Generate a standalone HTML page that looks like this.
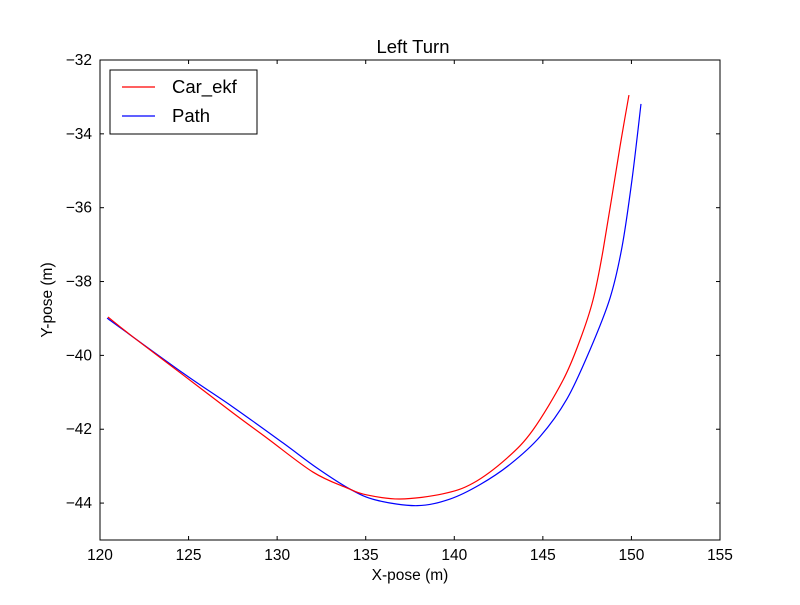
<!DOCTYPE html>
<html><head><meta charset="utf-8"><style>
body{margin:0;background:#fff;}
svg text{font-family:"Liberation Sans","DejaVu Sans",sans-serif;}
</style></head><body>
<svg id="chart" width="800" height="600" xmlns="http://www.w3.org/2000/svg"></svg>
<script>
const xTicks=[120,125,130,135,140,145,150,155];
const yTicks=[-44,-42,-40,-38,-36,-34,-32];
const carX=[120.45,121.86,124.69,127.51,129.43,132.02,133.94,135.07,136.94,139.36,141.06,142.98,144.44,146.14,147.10,147.83,148.40,149.35,149.86];
const carY=[-38.96,-39.50,-40.53,-41.56,-42.24,-43.16,-43.59,-43.78,-43.89,-43.75,-43.46,-42.78,-42.02,-40.67,-39.58,-38.50,-37.15,-34.36,-32.95];
const pathX=[120.40,124.69,127.51,130.33,132.25,134.11,135.60,137.90,139.76,141.45,143.15,144.84,146.36,147.66,148.79,149.47,150.03,150.54];
const pathY=[-38.99,-40.48,-41.40,-42.37,-43.05,-43.62,-43.92,-44.07,-43.89,-43.50,-42.95,-42.20,-41.18,-39.85,-38.45,-37.06,-35.25,-33.19];
const L=100,R=720,T=60,B=540,X0=120,X1=155,Y0=-45,Y1=-32;
const sx=v=>L+(v-X0)/(X1-X0)*(R-L);
const sy=v=>B-(v-Y0)/(Y1-Y0)*(B-T);
const svg=document.getElementById('chart');
const NS='http://www.w3.org/2000/svg';
function mk(tag,attrs,txt){const e=document.createElementNS(NS,tag);for(const k in attrs)e.setAttribute(k,attrs[k]);if(txt!==undefined)e.textContent=txt;svg.appendChild(e);return e;}
function line(xs,ys,color,name){
  const P=xs.map((x,i)=>[sx(x),sy(ys[i])]);
  let d='M'+P[0][0].toFixed(2)+','+P[0][1].toFixed(2);
  for(let i=0;i<P.length-1;i++){
    const p0=P[Math.max(i-1,0)],p1=P[i],p2=P[i+1],p3=P[Math.min(i+2,P.length-1)];
    const c1=[p1[0]+(p2[0]-p0[0])/6,p1[1]+(p2[1]-p0[1])/6];
    const c2=[p2[0]-(p3[0]-p1[0])/6,p2[1]-(p3[1]-p1[1])/6];
    d+='C'+c1.map(v=>v.toFixed(2)).join(',')+' '+c2.map(v=>v.toFixed(2)).join(',')+' '+p2.map(v=>v.toFixed(2)).join(',');
  }
  const p=mk('path',{d:d,fill:'none',stroke:color,'stroke-width':1.2,'stroke-linejoin':'round'});
  
  
}
line(pathX,pathY,'#0000ff','path-line');
line(carX,carY,'#ff0000','car-ekf-line');
const frame=mk('rect',{x:L,y:T,width:R-L,height:B-T,fill:'none',stroke:'#000','stroke-width':1});


xTicks.forEach(v=>{const x=sx(v);
  mk('line',{x1:x,y1:B,x2:x,y2:B-4,stroke:'#000'});mk('line',{x1:x,y1:T,x2:x,y2:T+4,stroke:'#000'});
  const t=mk('text',{x:x,y:B+20,'font-size':15.5,'text-anchor':'middle'},String(v));
  
  
});
yTicks.forEach(v=>{const y=sy(v);
  mk('line',{x1:L,y1:y,x2:L+4,y2:y,stroke:'#000'});mk('line',{x1:R,y1:y,x2:R-4,y2:y,stroke:'#000'});
  const t=mk('text',{x:L-8,y:y+5,'font-size':15.5,'text-anchor':'end'},'\u2212'+Math.abs(v));
  
  
});
const title=mk('text',{x:413,y:53,'font-size':18.5,'text-anchor':'middle'},'Left Turn');


const xl=mk('text',{x:410,y:580,'font-size':15.5,'text-anchor':'middle'},'X-pose (m)');


const yl=mk('text',{x:52,y:300,'font-size':15.5,'text-anchor':'middle',transform:'rotate(-90 52 300)'},'Y-pose (m)');


const lg=mk('rect',{x:110,y:70,width:147,height:64,fill:'#fff',stroke:'#000'});


mk('line',{x1:122,y1:87,x2:155,y2:87,stroke:'#ff0000','stroke-width':1.2});
const l1=mk('text',{x:172,y:93,'font-size':18.5},'Car_ekf');


mk('line',{x1:122,y1:116,x2:155,y2:116,stroke:'#0000ff','stroke-width':1.2});
const l2=mk('text',{x:172,y:122,'font-size':18.5},'Path');


</script>
</body></html>
